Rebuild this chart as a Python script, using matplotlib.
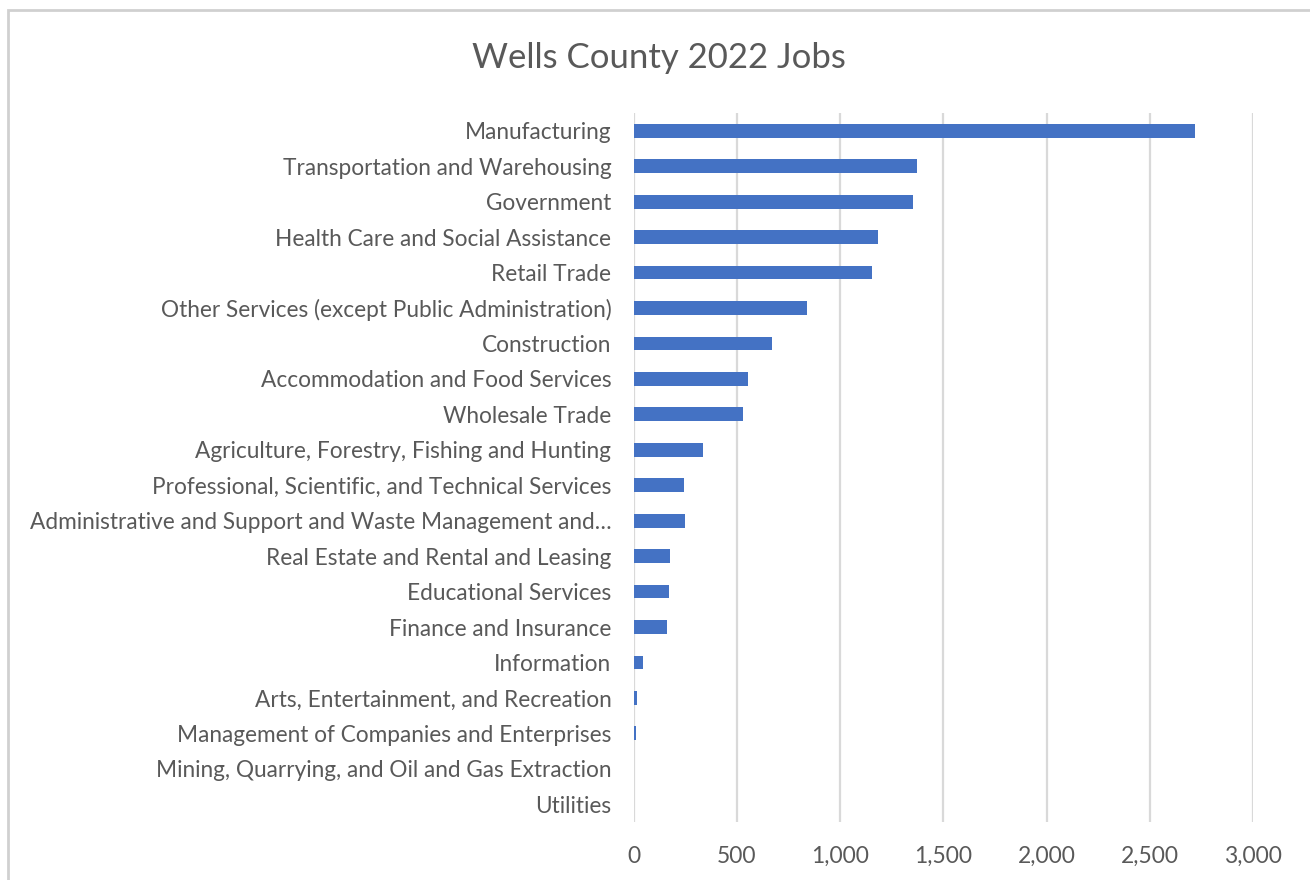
import numpy as np
import matplotlib.pyplot as plt
from matplotlib.patches import Rectangle
from matplotlib.ticker import FuncFormatter

# Jobs by industry, Wells County 2022 (largest first)
industries = [
    "Manufacturing",
    "Transportation and Warehousing",
    "Government",
    "Health Care and Social Assistance",
    "Retail Trade",
    "Other Services (except Public Administration)",
    "Construction",
    "Accommodation and Food Services",
    "Wholesale Trade",
    "Agriculture, Forestry, Fishing and Hunting",
    "Professional, Scientific, and Technical Services",
    "Administrative and Support and Waste Management and\u2026",
    "Real Estate and Rental and Leasing",
    "Educational Services",
    "Finance and Insurance",
    "Information",
    "Arts, Entertainment, and Recreation",
    "Management of Companies and Enterprises",
    "Mining, Quarrying, and Oil and Gas Extraction",
    "Utilities",
]
jobs = [2720, 1374, 1353, 1184, 1153, 838, 670, 555, 529, 338,
        246, 248, 177, 172, 164, 46, 17, 11, 0, 0]
x_ticks = [0, 500, 1000, 1500, 2000, 2500, 3000]

text_color = "#595959"
plt.rcParams['font.family'] = ['Lato', 'DejaVu Sans']

fig = plt.figure(figsize=(13.1, 8.8), dpi=100)
fig.patches.append(Rectangle((0.006, -0.01), 1.1, 0.999, transform=fig.transFigure,
                             fill=False, edgecolor="#d0d0d0", linewidth=2))

ax = fig.add_axes([0.4836, 0.0659, 0.4729, 0.8057])
y = np.arange(len(industries))
ax.barh(y, jobs, height=0.39, color="#4472C4", zorder=3)
ax.set_ylim(len(industries) - 0.5, -0.5)
ax.set_xlim(0, 3000)

ax.set_yticks(y)
ax.set_yticklabels(industries, fontsize=16.3, color=text_color)
ax.set_xticks(x_ticks)
ax.xaxis.set_major_formatter(FuncFormatter(lambda v, p: f"{int(v):,}"))
ax.tick_params(axis='x', labelsize=16.5, labelcolor=text_color, length=0, pad=17)
ax.tick_params(axis='y', length=0, pad=16)

ax.grid(axis='x', color="#d9d9d9", linewidth=1.6, zorder=0)
for s in ax.spines.values():
    s.set_visible(False)

fig.text(0.503, 0.934, "Wells County 2022 Jobs", ha="center", va="center",
         fontsize=25, color=text_color)

fig.savefig("out.png", dpi=100, facecolor="white")
